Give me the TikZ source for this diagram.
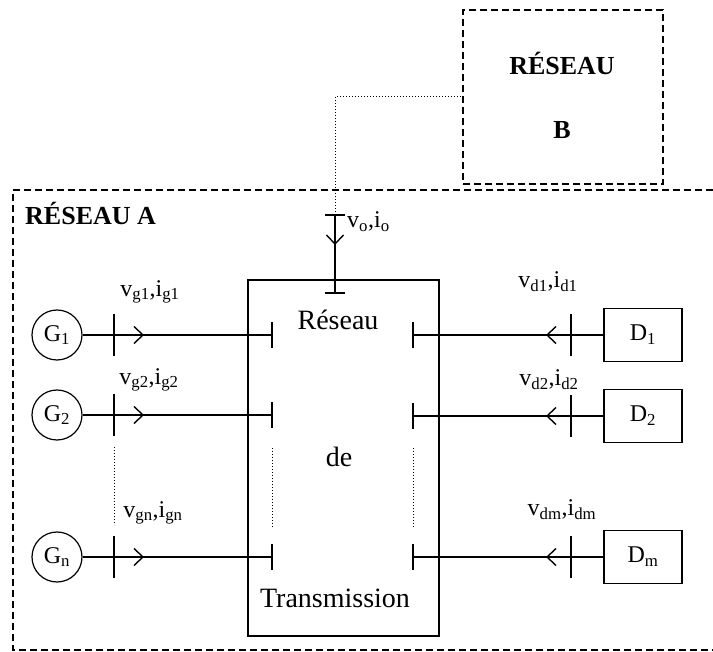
\documentclass[tikz,border=0pt]{standalone}
\usepackage{fontspec}
\setmainfont{Liberation Serif}
\usetikzlibrary{arrows.meta, positioning}
\tikzset{
  zone/.style={line width=1.8pt, dash pattern=on 7pt off 4pt},
  link/.style={line width=1.2pt},
  flow/.style={line width=1.2pt, -{Straight Barb[length=9pt, width=17pt, line width=1.4pt]}},
  hint/.style={line width=1pt, dotted},
  gen/.style={circle, draw, line width=1.2pt, minimum size=50pt, inner sep=0pt,
    font=\fontsize{24}{26}\selectfont},
  load/.style={rectangle, draw, line width=1.2pt, minimum width=78pt,
    minimum height=53pt, font=\fontsize{24}{26}\selectfont},
  meas/.style={font=\fontsize{24}{26}\selectfont, inner sep=0pt},
  big/.style={font=\fontsize{28}{30}\selectfont, inner sep=0pt},
  zonename/.style={font=\fontsize{26}{28}\selectfont\bfseries, inner sep=0pt},
}

\begin{document}
\begin{tikzpicture}[x=1pt, y=-1pt]
\useasboundingbox (0,0) rectangle (713,652);

% the two networks
\draw[zone] (713,190) -- (13,190) -- (13,650) -- (713,650);
\node[draw, zone, minimum width=200pt, minimum height=174pt] (resB) at (563,97) {};
\node[zonename] (resBtop) at (562,63) {RÉSEAU};
\node[zonename] (resBbot) at (562,130) {B};
\node[zonename, anchor=west] (resA) at (25,213) {RÉSEAU A};

% transmission network
\node[draw, link, minimum width=191pt, minimum height=356pt] (trans) at (343.5,458) {};
\node[big] (tr1) at (338,320) {Réseau};
\node[big] (tr2) at (339,457) {de};
\node[big] (tr3) at (335,598) {Transmission};

% interconnection with network B
\coordinate (mo) at (335,215);
\coordinate (ao) at (335,245);
\coordinate (bo) at (335,293);
\draw[hint] (mo) |- (resB.west);
\draw[link] (mo) -- (bo);
\draw[flow] (mo) -- (ao);
\draw[link] ([xshift=-10pt]mo) -- ([xshift=10pt]mo);
\draw[link] ([xshift=-10pt]bo) -- ([xshift=10pt]bo);
\node[meas, anchor=west] (lo) at (347,222) {v\textsubscript{o},i\textsubscript{o}};

% generators
\foreach \n/\y/\lx/\ly in {1/335/150/292, 2/415/149/380, n/557/153/513} {
  \node[gen] (g\n) at (57,\y) {G\textsubscript{\n}};
  \coordinate (mg\n) at (114,\y);
  \coordinate (ag\n) at (144,\y);
  \coordinate (bg\n) at (272,\y);
  \draw[link] (g\n) -- (bg\n);
  \draw[flow] (mg\n) -- (ag\n);
  \draw[link] ([yshift=-21pt]mg\n) -- ([yshift=21pt]mg\n);
  \draw[link] ([yshift=-13pt]bg\n) -- ([yshift=13pt]bg\n);
  \node[meas] (lg\n) at (\lx,\ly) {v\textsubscript{g\n},i\textsubscript{g\n}};
}

% loads
\foreach \n/\y/\lx/\ly in {1/335/548/282, 2/416/549/380, m/557/562/510} {
  \node[load] (d\n) at (643,\y) {D\textsubscript{\n}};
  \coordinate (md\n) at (571,\y);
  \coordinate (ad\n) at (546,\y);
  \coordinate (bd\n) at (413,\y);
  \draw[link] (d\n) -- (bd\n);
  \draw[flow] (md\n) -- (ad\n);
  \draw[link] ([yshift=-21pt]md\n) -- ([yshift=21pt]md\n);
  \draw[link] ([yshift=-13pt]bd\n) -- ([yshift=13pt]bd\n);
  \node[meas] (ld\n) at (\lx,\ly) {v\textsubscript{d\n},i\textsubscript{d\n}};
}

% omitted rows
\draw[hint] (114,447) -- (114,525);
\draw[hint] (272,448) -- (272,527);
\draw[hint] (413,448) -- (413,527);
\end{tikzpicture}
\end{document}
